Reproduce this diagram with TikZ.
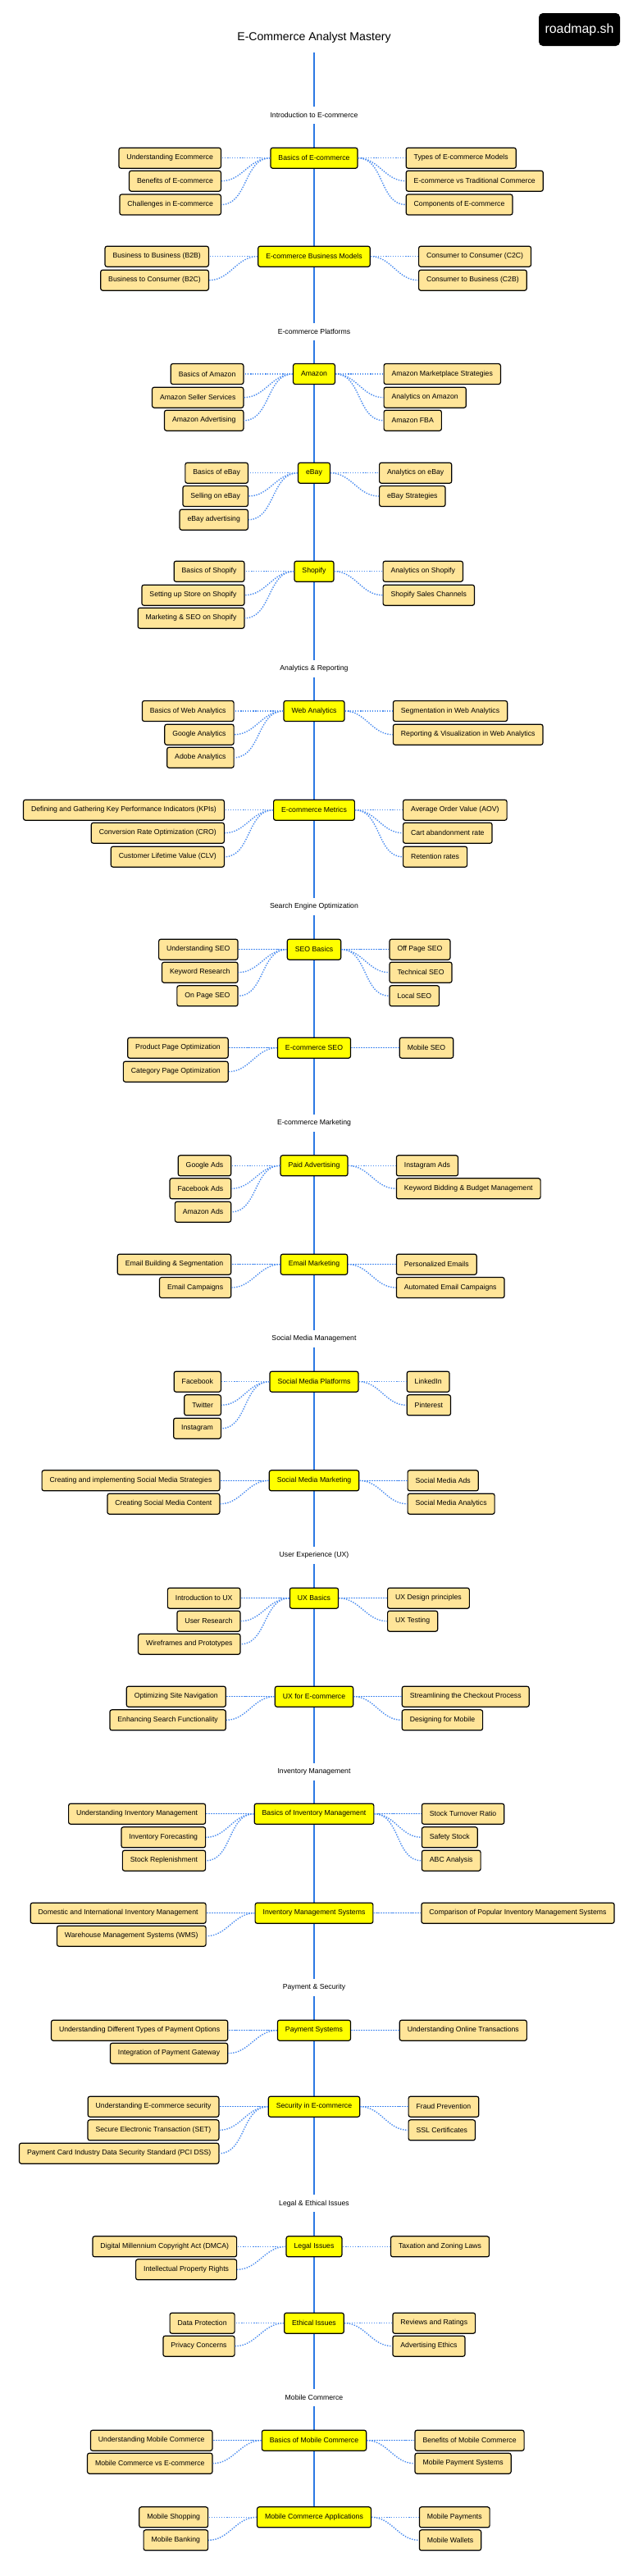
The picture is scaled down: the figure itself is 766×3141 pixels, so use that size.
\documentclass[tikz,border=0pt]{standalone}
\usepackage{fontspec}
\setmainfont{Liberation Sans}
\definecolor{hubfill}{HTML}{FFFF00}
\definecolor{leaffill}{HTML}{FFE599}
\definecolor{spinecol}{HTML}{2B78E4}
\definecolor{dotcol}{HTML}{4A8CF0}
\tikzset{
  hub/.style={draw=black, line width=1.2pt, fill=hubfill, rounded corners=2.5pt, inner xsep=9.5pt, inner ysep=0pt, minimum height=25pt, font=\fontsize{8.7}{10}\selectfont},
  leaf/.style={draw=black, line width=1.2pt, fill=leaffill, rounded corners=2.5pt, inner xsep=9.5pt, inner ysep=0pt, minimum height=25pt, font=\fontsize{8.7}{10}\selectfont},
  conn/.style={draw=dotcol, line width=1.4pt, dash pattern=on 1.4pt off 1.6pt},
  spine/.style={draw=spinecol, line width=1.6pt},
  sec/.style={fill=white, inner xsep=5pt, inner ysep=0pt, minimum height=21pt, font=\fontsize{8.7}{10}\selectfont},
}
\newcommand\mkhub[3]{\node[hub] (#1) at (383,#2) {#3};}
\newcommand\mkleft[5]{\node[leaf, anchor=east] (#1) at (#3,#4) {#5};\draw[conn] (#2.west) to[out=180,in=0] (#1.east);}
\newcommand\mkright[5]{\node[leaf, anchor=west] (#1) at (#3,#4) {#5};\draw[conn] (#2.east) to[out=0,in=180] (#1.west);}
\newcommand\mksec[3]{\node[sec] (#1) at (383,#2) {#3};}
\begin{document}
\begin{tikzpicture}[x=1pt,y=-1pt]
\useasboundingbox (0,0) rectangle (766,3141);
\fill[white] (0,0) rectangle (766,3141);
\coordinate (top) at (383,64);
\coordinate (bot) at (383,3069.3);
\draw[spine] (top) -- (bot);
\node[font=\fontsize{14.1}{17}\selectfont] (title) at (383,46) {E-Commerce Analyst Mastery};
\node[fill=black, rounded corners=5pt, minimum width=99pt, minimum height=40pt, text=white, font=\fontsize{15.9}{19}\selectfont] (badge) at (706.5,36) {roadmap.sh};
% sections
\mksec{s1}{140.7}{Introduction to E-commerce}
\mksec{s2}{404}{E-commerce Platforms}
\mksec{s3}{815}{Analytics \& Reporting}
\mksec{s4}{1105.7}{Search Engine Optimization}
\mksec{s5}{1369}{E-commerce Marketing}
\mksec{s6}{1632.7}{Social Media Management}
\mksec{s7}{1896.6}{User Experience (UX)}
\mksec{s8}{2160}{Inventory Management}
\mksec{s9}{2423.5}{Payment \& Security}
\mksec{s10}{2686.8}{Legal \& Ethical Issues}
\mksec{s11}{2923.5}{Mobile Commerce}
% G1
\mkhub{g1}{192.7}{Basics of E-commerce}
\mkleft{g1a}{g1}{270}{192.7}{Understanding Ecommerce}
\mkleft{g1b}{g1}{270}{220.7}{Benefits of E-commerce}
\mkleft{g1c}{g1}{270}{249.5}{Challenges in E-commerce}
\mkright{g1d}{g1}{494.6}{192.7}{Types of E-commerce Models}
\mkright{g1e}{g1}{494.6}{220.7}{E-commerce vs Traditional Commerce}
\mkright{g1f}{g1}{494.6}{249.5}{Components of E-commerce}
% G2
\mkhub{g2}{312.7}{E-commerce Business Models}
\mkleft{g2a}{g2}{255}{312.7}{Business to Business (B2B)}
\mkleft{g2b}{g2}{255}{341.7}{Business to Consumer (B2C)}
\mkright{g2c}{g2}{510}{312.7}{Consumer to Consumer (C2C)}
\mkright{g2d}{g2}{510}{341.7}{Consumer to Business (C2B)}
% G3
\mkhub{g3}{456}{Amazon}
\mkleft{g3a}{g3}{297.5}{456}{Basics of Amazon}
\mkleft{g3b}{g3}{297.5}{484.7}{Amazon Seller Services}
\mkleft{g3c}{g3}{297.5}{512.7}{Amazon Advertising}
\mkright{g3d}{g3}{467.5}{456}{Amazon Marketplace Strategies}
\mkright{g3e}{g3}{467.5}{484.7}{Analytics on Amazon}
\mkright{g3f}{g3}{467.5}{512.7}{Amazon FBA}
% G4
\mkhub{g4}{576.7}{eBay}
\mkleft{g4a}{g4}{303}{576.7}{Basics of eBay}
\mkleft{g4b}{g4}{303}{605}{Selling on eBay}
\mkleft{g4c}{g4}{303}{633.7}{eBay advertising}
\mkright{g4d}{g4}{462}{576.7}{Analytics on eBay}
\mkright{g4e}{g4}{462}{605}{eBay Strategies}
% G5
\mkhub{g5}{696.7}{Shopify}
\mkleft{g5a}{g5}{298.5}{696.7}{Basics of Shopify}
\mkleft{g5b}{g5}{298.5}{725.7}{Setting up Store on Shopify}
\mkleft{g5c}{g5}{298.5}{753.7}{Marketing \& SEO on Shopify}
\mkright{g5d}{g5}{466.5}{696.7}{Analytics on Shopify}
\mkright{g5e}{g5}{466.5}{725.7}{Shopify Sales Channels}
% G6
\mkhub{g6}{867}{Web Analytics}
\mkleft{g6a}{g6}{285.7}{867}{Basics of Web Analytics}
\mkleft{g6b}{g6}{285.7}{895.7}{Google Analytics}
\mkleft{g6c}{g6}{285.7}{923.7}{Adobe Analytics}
\mkright{g6d}{g6}{478.8}{867}{Segmentation in Web Analytics}
\mkright{g6e}{g6}{478.8}{895.7}{Reporting \& Visualization in Web Analytics}
% G7
\mkhub{g7}{987.7}{E-commerce Metrics}
\mkleft{g7a}{g7}{274}{987.7}{Defining and Gathering Key Performance Indicators (KPIs)}
\mkleft{g7b}{g7}{274}{1015.7}{Conversion Rate Optimization (CRO)}
\mkleft{g7c}{g7}{274}{1044.7}{Customer Lifetime Value (CLV)}
\mkright{g7d}{g7}{491}{987.7}{Average Order Value (AOV)}
\mkright{g7e}{g7}{491}{1015.7}{Cart abandonment rate}
\mkright{g7f}{g7}{491}{1044.7}{Retention rates}
% G8
\mkhub{g8}{1157.7}{SEO Basics}
\mkleft{g8a}{g8}{290.6}{1157.7}{Understanding SEO}
\mkleft{g8b}{g8}{290.6}{1185.7}{Keyword Research}
\mkleft{g8c}{g8}{290.6}{1214.3}{On Page SEO}
\mkright{g8d}{g8}{474.4}{1157.7}{Off Page SEO}
\mkright{g8e}{g8}{474.4}{1185.7}{Technical SEO}
\mkright{g8f}{g8}{474.4}{1214.3}{Local SEO}
% G9
\mkhub{g9}{1277.7}{E-commerce SEO}
\mkleft{g9a}{g9}{278.8}{1277.7}{Product Page Optimization}
\mkleft{g9b}{g9}{278.8}{1306.7}{Category Page Optimization}
\mkright{g9c}{g9}{486.7}{1277.7}{Mobile SEO}
% G10
\mkhub{g10}{1421.3}{Paid Advertising}
\mkleft{g10a}{g10}{282.3}{1421.3}{Google Ads}
\mkleft{g10b}{g10}{282.3}{1449.3}{Facebook Ads}
\mkleft{g10c}{g10}{282.3}{1477.7}{Amazon Ads}
\mkright{g10d}{g10}{482.8}{1421.3}{Instagram Ads}
\mkright{g10e}{g10}{482.8}{1449.3}{Keyword Bidding \& Budget Management}
% G11
\mkhub{g11}{1541.7}{Email Marketing}
\mkleft{g11a}{g11}{282.3}{1541.7}{Email Building \& Segmentation}
\mkleft{g11b}{g11}{282.3}{1570}{Email Campaigns}
\mkright{g11c}{g11}{482.8}{1541.7}{Personalized Emails}
\mkright{g11d}{g11}{482.8}{1570}{Automated Email Campaigns}
% G12
\mkhub{g12}{1684.7}{Social Media Platforms}
\mkleft{g12a}{g12}{270}{1684.7}{Facebook}
\mkleft{g12b}{g12}{270}{1713.3}{Twitter}
\mkleft{g12c}{g12}{270}{1741.7}{Instagram}
\mkright{g12d}{g12}{495.6}{1684.7}{LinkedIn}
\mkright{g12e}{g12}{495.6}{1713.3}{Pinterest}
% G13
\mkhub{g13}{1805.3}{Social Media Marketing}
\mkleft{g13a}{g13}{268.5}{1805.3}{Creating and implementing Social Media Strategies}
\mkleft{g13b}{g13}{268.5}{1833.7}{Creating Social Media Content}
\mkright{g13c}{g13}{496.5}{1805.3}{Social Media Ads}
\mkright{g13d}{g13}{496.5}{1833.7}{Social Media Analytics}
% G14
\mkhub{g14}{1948.7}{UX Basics}
\mkleft{g14a}{g14}{293.6}{1948.7}{Introduction to UX}
\mkleft{g14b}{g14}{293.6}{1976.7}{User Research}
\mkleft{g14c}{g14}{293.6}{2004.7}{Wireframes and Prototypes}
\mkright{g14d}{g14}{472}{1948.7}{UX Design principles}
\mkright{g14e}{g14}{472}{1976.7}{UX Testing}
% G15
\mkhub{g15}{2068.7}{UX for E-commerce}
\mkleft{g15a}{g15}{275.9}{2068.7}{Optimizing Site Navigation}
\mkleft{g15b}{g15}{275.9}{2097.3}{Enhancing Search Functionality}
\mkright{g15c}{g15}{489.7}{2068.7}{Streamlining the Checkout Process}
\mkright{g15d}{g15}{489.7}{2097.3}{Designing for Mobile}
% G16
\mkhub{g16}{2211.7}{Basics of Inventory Management}
\mkleft{g16a}{g16}{251.2}{2211.7}{Understanding Inventory Management}
\mkleft{g16b}{g16}{251.2}{2240.3}{Inventory Forecasting}
\mkleft{g16c}{g16}{251.2}{2268.7}{Stock Replenishment}
\mkright{g16d}{g16}{513.8}{2211.7}{Stock Turnover Ratio}
\mkright{g16e}{g16}{513.8}{2240.3}{Safety Stock}
\mkright{g16f}{g16}{513.8}{2268.7}{ABC Analysis}
% G17
\mkhub{g17}{2332.7}{Inventory Management Systems}
\mkleft{g17a}{g17}{251.7}{2332.7}{Domestic and International Inventory Management}
\mkleft{g17b}{g17}{251.7}{2360.7}{Warehouse Management Systems (WMS)}
\mkright{g17c}{g17}{513.3}{2332.7}{Comparison of Popular Inventory Management Systems}
% G18
\mkhub{g18}{2475.7}{Payment Systems}
\mkleft{g18a}{g18}{278.3}{2475.7}{Understanding Different Types of Payment Options}
\mkleft{g18b}{g18}{278.3}{2503.7}{Integration of Payment Gateway}
\mkright{g18c}{g18}{486.7}{2475.7}{Understanding Online Transactions}
% G19
\mkhub{g19}{2568.7}{Security in E-commerce}
\mkleft{g19a}{g19}{267.5}{2568.7}{Understanding E-commerce security}
\mkleft{g19b}{g19}{267.5}{2597.3}{Secure Electronic Transaction (SET)}
\mkleft{g19c}{g19}{267.5}{2625.7}{Payment Card Industry Data Security Standard (PCI DSS)}
\mkright{g19d}{g19}{497.5}{2568.7}{Fraud Prevention}
\mkright{g19e}{g19}{497.5}{2597.3}{SSL Certificates}
% G20
\mkhub{g20}{2739.3}{Legal Issues}
\mkleft{g20a}{g20}{289.2}{2739.3}{Digital Millennium Copyright Act (DMCA)}
\mkleft{g20b}{g20}{289.2}{2767.3}{Intellectual Property Rights}
\mkright{g20c}{g20}{475.9}{2739.3}{Taxation and Zoning Laws}
% G21
\mkhub{g21}{2832.7}{Ethical Issues}
\mkleft{g21a}{g21}{286.7}{2832.7}{Data Protection}
\mkleft{g21b}{g21}{286.7}{2860.7}{Privacy Concerns}
\mkright{g21c}{g21}{478.3}{2832.7}{Reviews and Ratings}
\mkright{g21d}{g21}{478.3}{2860.7}{Advertising Ethics}
% G22
\mkhub{g22}{2975.7}{Basics of Mobile Commerce}
\mkleft{g22a}{g22}{259.6}{2975.7}{Understanding Mobile Commerce}
\mkleft{g22b}{g22}{259.6}{3003.7}{Mobile Commerce vs E-commerce}
\mkright{g22c}{g22}{505.4}{2975.7}{Benefits of Mobile Commerce}
\mkright{g22d}{g22}{505.4}{3003.7}{Mobile Payment Systems}
% G23
\mkhub{g23}{3069.3}{Mobile Commerce Applications}
\mkleft{g23a}{g23}{254.2}{3069.3}{Mobile Shopping}
\mkleft{g23b}{g23}{254.2}{3097.3}{Mobile Banking}
\mkright{g23c}{g23}{510.8}{3069.3}{Mobile Payments}
\mkright{g23d}{g23}{510.8}{3097.3}{Mobile Wallets}
\end{tikzpicture}
\end{document}
